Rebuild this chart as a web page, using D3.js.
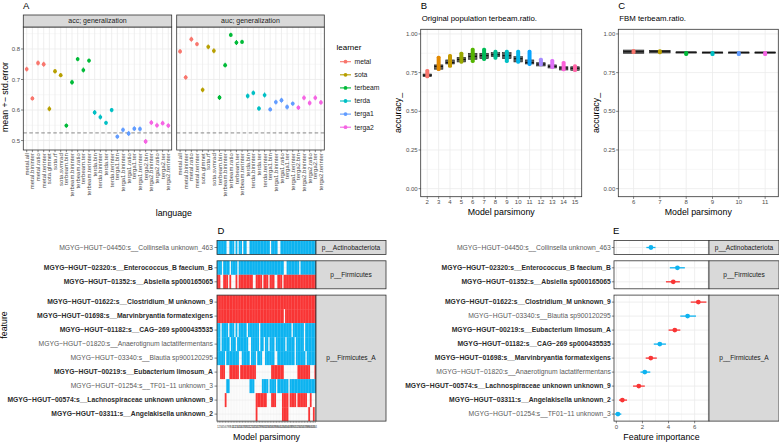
<!DOCTYPE html>
<html><head><meta charset="utf-8">
<script src="https://cdn.jsdelivr.net/npm/d3@7/dist/d3.min.js"></script>
<style>
html,body{margin:0;padding:0;background:#fff;}
svg{display:block;}
svg text{font-family:"Liberation Sans",Arial,Helvetica,sans-serif;}
</style></head>
<body>
<svg id="chart" width="779" height="442" viewBox="0 0 779 442"></svg>
<script>
// ================= DATA =================
// Panel A
const languages = ["metal.all","metal.bininter","metal.ratio","metal.terinter","sota.glmnet","sota.rf","sota.svmrad",
  "terbeam.bin","terbeam.bininter","terbeam.ratio","terbeam.ter","terbeam.terinter",
  "terda.bin","terda.bininter","terda.ter","terda.terinter",
  "terga1.bin","terga1.bininter","terga1.ratio","terga1.ter","terga1.terinter",
  "terga2.bin","terga2.bininter","terga2.ratio","terga2.ter","terga2.terinter"];
const learners = ["metal","sota","terbeam","terda","terga1","terga2"];
const learnerColors = ["#F8766D","#B79F00","#00BA38","#00BFC4","#619CFF","#F564E3"];
const accMean = [0.734,0.638,0.754,0.750,0.604,0.727,0.714,0.549,0.691,0.767,0.731,0.762,0.592,0.577,0.558,0.600,0.513,0.535,0.523,0.539,0.538,0.497,0.559,0.550,0.557,0.549];
const accErr  = [0.008,0.007,0.008,0.008,0.008,0.007,0.007,0.007,0.008,0.007,0.008,0.007,0.008,0.008,0.007,0.007,0.007,0.008,0.008,0.008,0.008,0.008,0.008,0.008,0.008,0.008];
const aucMean = [0.792,0.707,0.832,0.816,0.666,0.807,0.794,0.641,0.747,0.846,0.821,0.823,0.646,0.656,0.605,0.649,0.602,0.626,0.632,0.610,0.621,0.608,0.640,0.623,0.640,0.625];
const aucErr  = [0.008,0.008,0.008,0.007,0.008,0.008,0.008,0.008,0.008,0.007,0.008,0.007,0.008,0.008,0.007,0.008,0.007,0.008,0.008,0.008,0.007,0.008,0.008,0.008,0.008,0.008];
const chanceLevel = 0.525;
const aYTicks = [0.5,0.6,0.7,0.8];
const aYMinor = [0.55,0.65,0.75,0.85];

// Panel B
const bParsimony = [2,3,4,5,6,7,8,9,10,11,12,13,14,15];
const bMin = [0.720,0.767,0.788,0.814,0.819,0.832,0.840,0.819,0.814,0.800,0.797,0.780,0.765,0.760];
const bQ1  = [0.724,0.772,0.806,0.819,0.836,0.840,0.853,0.840,0.819,0.806,0.793,0.780,0.767,0.765];
const bMed = [0.733,0.790,0.815,0.835,0.855,0.860,0.866,0.860,0.840,0.815,0.805,0.790,0.780,0.778];
const bQ3  = [0.741,0.800,0.832,0.849,0.875,0.875,0.879,0.879,0.853,0.832,0.814,0.800,0.788,0.788];
const bMax = [0.767,0.853,0.864,0.879,0.904,0.904,0.891,0.891,0.891,0.891,0.840,0.832,0.819,0.797];
const bColors = ["#F8766D","#E38900","#C49A00","#99A800","#53B400","#00BC56","#00C094","#00BFC4","#00B6EB","#06A4FF","#A58AFF","#DF70F8","#FB61D7","#FF66A8"];

// Panel C
const cParsimony = [6,7,8,9,10,11];
const cMin = [0.882,0.882,0.879,0.879,0.879,0.879];
const cQ1  = [0.875,0.877,0.879,0.879,0.879,0.879];
const cMed = [0.885,0.888,0.882,0.881,0.881,0.881];
const cQ3  = [0.896,0.894,0.884,0.883,0.883,0.883];
const cMax = [0.896,0.895,0.884,0.883,0.883,0.883];
const cColors = ["#F8766D","#B79F00","#00BA38","#00BFC4","#619CFF","#F564E3"];
const accTicks = [0,0.25,0.5,0.75,1];
const accMinor = [0.125,0.375,0.625,0.875];

// Panel D
const phyla = ["p__Actinobacteriota","p__Firmicutes","p__Firmicutes_A"];
const features = [
  "MGYG\u2212HGUT\u221204450:s__Collinsella unknown_463",
  "MGYG\u2212HGUT\u221202320:s__Enterococcus_B faecium_B",
  "MGYG\u2212HGUT\u221201352:s__Absiella sp000165065",
  "MGYG\u2212HGUT\u221201622:s__Clostridium_M unknown_9",
  "MGYG\u2212HGUT\u221201698:s__Marvinbryantia formatexigens",
  "MGYG\u2212HGUT\u221201182:s__CAG\u2212269 sp000435535",
  "MGYG\u2212HGUT\u221201820:s__Anaerotignum lactatifermentans",
  "MGYG\u2212HGUT\u221203340:s__Blautia sp900120295",
  "MGYG\u2212HGUT\u221200219:s__Eubacterium limosum_A",
  "MGYG\u2212HGUT\u221201254:s__TF01\u221211 unknown_3",
  "MGYG\u2212HGUT\u221200574:s__Lachnospiraceae unknown unknown_9",
  "MGYG\u2212HGUT\u221203311:s__Angelakisella unknown_2"];
const featurePhylum = [0,1,1,2,2,2,2,2,2,2,2,2];
const featureSign = [-1,-1,1,1,1,-1,-1,-1,1,-1,1,1];
const featureBold = [false,true,true,true,true,true,false,false,true,false,true,true];
const models = d3.range(1,65);
// runs of models (0-based column index, inclusive) in which each feature is selected
const presenceRuns = [
  [[0,5],[8,10],[12,12],[14,15],[17,18],[21,33],[35,38],[41,63]],
  [[0,2],[4,7],[9,12],[14,42],[45,52],[54,63]],
  [[0,1],[4,6],[8,8],[12,12],[14,22],[25,28],[30,32],[34,36],[39,41],[43,63]],
  [[0,63]],
  [[0,42],[44,63]],
  [[0,1],[3,6],[8,10],[12,12],[14,18],[20,26],[28,47],[49,55],[57,63]],
  [[0,1],[3,7],[9,11],[13,19],[22,26],[28,29],[31,32],[34,36],[38,43],[45,49],[51,55],[57,63]],
  [[0,4],[6,13],[16,20],[22,24],[26,28],[31,36],[39,49],[51,56],[58,63]],
  [[2,4],[8,13],[15,24],[35,42],[52,59],[63,63]],
  [[6,7],[21,23],[29,32],[34,37],[39,45],[47,63]],
  [[5,5],[25,31],[35,37],[42,45],[47,50],[52,57],[60,60]],
  [[25,25],[42,45],[59,59],[62,62]]];
const signColors = {"-1":"#0DB3F0","1":"#F93535"};

// Panel E (order within facets as in the figure)
const eFeatureIdx = [0, 1,2, 3,7,8,5,4,6,10,11,9];
const eImportance = [2.65, 4.68,4.36, 6.28,5.46,4.48,3.33,2.64,2.18,1.72,0.46,0.12];
const eLow  = [2.30, 4.10,3.80, 5.70,4.90,4.00,2.87,2.25,1.85,1.28,0.20,-0.13];
const eHigh = [3.00, 5.25,4.87, 6.90,6.10,4.90,3.80,3.10,2.60,2.18,0.82,0.38];
const eTicks = [0,2,4,6];
const eMinor = [1,3,5,7];

// ================= DRAWING =================
const svg = d3.select("#chart");
const GRID = "#EBEBEB", DARK = "#333333", AXT = "#4D4D4D", STRIP = "#D9D9D9";
const LABEL_SIZE = 6.75;

function rect(g,x0,y0,x1,y1,fill,stroke,sw){
  return g.append("rect").attr("x",x0).attr("y",y0).attr("width",x1-x0).attr("height",y1-y0)
    .attr("fill",fill||"none").attr("stroke",stroke||"none").attr("stroke-width",sw||0);
}
function line(g,x1,y1,x2,y2,stroke,sw,dash){
  const l = g.append("line").attr("x1",x1).attr("y1",y1).attr("x2",x2).attr("y2",y2)
    .attr("stroke",stroke).attr("stroke-width",sw);
  if (dash) l.attr("stroke-dasharray",dash);
  return l;
}
function text(g,x,y,s,size,opt={}){
  const t = g.append("text").attr("x",x).attr("y",y).text(s).attr("font-size",size)
    .attr("fill",opt.fill||"#000").attr("text-anchor",opt.anchor||"start");
  if (opt.weight) t.attr("font-weight",opt.weight);
  if (opt.dy) t.attr("dy",opt.dy);
  if (opt.rotate!=null) t.attr("transform",`rotate(${opt.rotate},${x},${y})`);
  return t;
}

// ---------- Panel A ----------
const gA = svg.append("g");
text(gA,23,9,"A",9.5);
const ay = d3.scaleLinear().domain([0.469,0.872]).range([150,27]);
const aFacets = [
  {label:"acc; generalization", x0:23.3, x1:171.7, mean:accMean, err:accErr},
  {label:"auc; generalization", x0:176.7, x1:324.3, mean:aucMean, err:aucErr}];
aFacets.forEach(f=>{
  const x = d3.scalePoint().domain(languages).range([f.x0,f.x1]).padding(0.6);
  const yb = ay.range()[0], yt = ay.range()[1];
  aYMinor.forEach(v=>line(gA,f.x0,ay(v),f.x1,ay(v),GRID,0.4));
  aYTicks.forEach(v=>line(gA,f.x0,ay(v),f.x1,ay(v),GRID,0.8));
  languages.forEach(l=>line(gA,x(l),yt,x(l),yb,GRID,0.8));
  line(gA,f.x0,ay(chanceLevel),f.x1,ay(chanceLevel),"#555",0.7,"3.5,2.5");
  languages.forEach((l,i)=>{
    const c = learnerColors[learners.indexOf(l.split(".")[0])];
    line(gA,x(l),ay(f.mean[i]-f.err[i]),x(l),ay(f.mean[i]+f.err[i]),c,1.1);
    gA.append("circle").attr("cx",x(l)).attr("cy",ay(f.mean[i])).attr("r",1.9).attr("fill",c);
  });
  rect(gA,f.x0,yt,f.x1,yb,"none",DARK,0.8);
  rect(gA,f.x0,15,f.x1,yt,STRIP,DARK,0.8);
  text(gA,(f.x0+f.x1)/2,yt-3.6,f.label,7,{anchor:"middle",fill:"#1A1A1A"});
  languages.forEach(l=>{
    line(gA,x(l),yb,x(l),yb+2.2,DARK,0.6);
    text(gA,x(l),yb+3.2,l,6,{anchor:"end",fill:AXT,rotate:-90,dy:"0.35em"});
  });
});
aYTicks.forEach(v=>{
  line(gA,21,ay(v),23.3,ay(v),DARK,0.6);
  text(gA,20,ay(v),d3.format(".1f")(v),6,{anchor:"end",fill:AXT,dy:"0.35em"});
});
text(gA,8,97,"mean +\u2212 std.error",8.8,{anchor:"middle",rotate:-90});
text(gA,173.8,215.5,"language",8.8,{anchor:"middle"});
// legend
text(gA,336.5,50,"learner",8);
learners.forEach((l,i)=>{
  const y = 61.7 + i*13.1;
  line(gA,340,y,351,y,learnerColors[i],1.1);
  gA.append("circle").attr("cx",345.5).attr("cy",y).attr("r",1.9).attr("fill",learnerColors[i]);
  text(gA,354.5,y,l,6.8,{dy:"0.35em",fill:"#1A1A1A"});
});

// ---------- Panels B & C ----------
const yAcc = d3.scaleLinear().domain([-0.052,1.030]).range([196.7,29.3]);
function boxPanel(cfg){
  const g = svg.append("g");
  const x = d3.scaleLinear().domain(cfg.dom).range([cfg.x0,cfg.x1]);
  const yb = yAcc.range()[0], yt = yAcc.range()[1];
  text(g,cfg.x0,9,cfg.tag,9.5);
  text(g,cfg.x0+1,21,cfg.subtitle,7.8);
  accMinor.forEach(v=>line(g,cfg.x0,yAcc(v),cfg.x1,yAcc(v),GRID,0.4));
  accTicks.forEach(v=>line(g,cfg.x0,yAcc(v),cfg.x1,yAcc(v),GRID,0.8));
  cfg.cats.forEach(c=>line(g,x(c),yt,x(c),yb,GRID,0.8));
  const bw = (x(1)-x(0))*cfg.boxW;
  cfg.cats.forEach((c,i)=>{
    const cx = x(c);
    line(g,cx,yAcc(cfg.mn[i]),cx,yAcc(cfg.mx[i]),"#333",0.5);
    rect(g,cx-bw/2,yAcc(cfg.q3[i]),cx+bw/2,Math.max(yAcc(cfg.q1[i]),yAcc(cfg.q3[i])+1.2),"#5E5E5E","#222",0.6);
    line(g,cx-bw/2,yAcc(cfg.med[i]),cx+bw/2,yAcc(cfg.med[i]),"#111",1.2);
    const top = yAcc(cfg.mx[i]), bot = Math.max(yAcc(cfg.mn[i]), top+3);
    g.append("rect").attr("x",cx-2).attr("y",top-1).attr("width",4).attr("height",bot-top+2)
      .attr("rx",1.6).attr("fill",cfg.colors[i]);
  });
  rect(g,cfg.x0,yt,cfg.x1,yb,"none",DARK,0.8);
  accTicks.forEach(v=>{
    line(g,cfg.x0-2.2,yAcc(v),cfg.x0,yAcc(v),DARK,0.6);
    text(g,cfg.x0-3,yAcc(v),d3.format(".2f")(v),6,{anchor:"end",fill:AXT,dy:"0.35em"});
  });
  cfg.cats.forEach(c=>{
    line(g,x(c),yb,x(c),yb+2.2,DARK,0.6);
    text(g,x(c),204.2,String(c),6,{anchor:"middle",fill:AXT});
  });
  text(g,(cfg.x0+cfg.x1)/2,215.3,"Model parsimony",8.8,{anchor:"middle"});
  text(g,cfg.yTitleX,(yt+yb)/2,"accuracy_",8.8,{anchor:"middle",rotate:-90});
}
boxPanel({tag:"B",subtitle:"Original population terbeam.ratio.",x0:420.7,x1:581.7,dom:[1.42,15.59],
  cats:bParsimony,mn:bMin,q1:bQ1,med:bMed,q3:bQ3,mx:bMax,colors:bColors,boxW:0.75,yTitleX:400.5});
boxPanel({tag:"C",subtitle:"FBM terbeam.ratio.",x0:618.3,x1:778.3,dom:[5.42,11.5],
  cats:cParsimony,mn:cMin,q1:cQ1,med:cMed,q3:cQ3,mx:cMax,colors:cColors,boxW:0.78,yTitleX:598.5});

// ---------- facet layout for D & E ----------
const rowH = 14, facetGap = 6.3;
const facetRanges = [];
{ let y0 = 240.5;
  phyla.forEach((p,pi)=>{
    const n = featurePhylum.filter(v=>v===pi).length;
    facetRanges.push([y0, y0+n*rowH]);
    y0 += n*rowH + facetGap;
  });
}
function featureLabel(g,x,y,fi){
  const t = text(g,x,y,features[fi],LABEL_SIZE,{anchor:"end",dy:"0.35em",
    weight:featureBold[fi]?"bold":null,fill:featureBold[fi]?"#2B2B2B":"#5A5A5A"});
  return t;
}

// ---------- Panel D ----------
const gD = svg.append("g");
text(gD,217.5,233.5,"D",9.5);
const dx = d3.scaleBand().domain(models).range([217,316]).padding(0);
const dStrip = [316,386];
phyla.forEach((p,pi)=>{
  const rows = features.map((f,i)=>i).filter(i=>featurePhylum[i]===pi);
  const [y0,y1] = facetRanges[pi];
  const dy = d3.scaleBand().domain(rows).range([y0,y1]);
  models.forEach(m=>line(gD,dx(m)+dx.bandwidth()/2,y0,dx(m)+dx.bandwidth()/2,y1,GRID,0.4));
  rows.forEach(r=>line(gD,217,dy(r)+rowH/2,316,dy(r)+rowH/2,GRID,0.6));
  rows.forEach(r=>{
    presenceRuns[r].forEach(([a,b])=>{
      for (let c=a;c<=b;c++){
        gD.append("rect").attr("x",dx(models[c])).attr("y",dy(r))
          .attr("width",dx.bandwidth()+0.25).attr("height",dy.bandwidth())
          .attr("fill",signColors[String(featureSign[r])]);
      }
    });
    line(gD,214.5,dy(r)+rowH/2,217,dy(r)+rowH/2,DARK,0.6);
    featureLabel(gD,213,dy(r)+rowH/2,r);
  });
  rect(gD,217,y0,316,y1,"none",DARK,0.8);
  rect(gD,dStrip[0],y0,dStrip[1],y1,STRIP,DARK,0.8);
  text(gD,(dStrip[0]+dStrip[1])/2,(y0+y1)/2,p,6.6,{anchor:"middle",dy:"0.35em",fill:"#1A1A1A"});
});
const dBottom = facetRanges[2][1];
models.forEach(m=>{
  const cx = dx(m)+dx.bandwidth()/2;
  line(gD,cx,dBottom,cx,dBottom+1.8,DARK,0.4);
  text(gD,cx,dBottom+6.5,String(m),3.1,{anchor:"middle",fill:AXT});
});
text(gD,266.5,440,"Model parsimony",8.8,{anchor:"middle"});
text(gD,7,325,"feature",8.8,{anchor:"middle",rotate:-90});

// ---------- Panel E ----------
const gE = svg.append("g");
text(gE,613,233.5,"E",9.5);
const ex = d3.scaleLinear().domain([-0.18,7.1]).range([614,709]);
const eStrip = [709,779];
phyla.forEach((p,pi)=>{
  const idx = eFeatureIdx.map((f,k)=>k).filter(k=>featurePhylum[eFeatureIdx[k]]===pi);
  const [y0,y1] = facetRanges[pi];
  const ey = d3.scaleBand().domain(idx).range([y0,y1]);
  eMinor.forEach(v=>line(gE,ex(v),y0,ex(v),y1,GRID,0.4));
  eTicks.forEach(v=>line(gE,ex(v),y0,ex(v),y1,GRID,0.8));
  idx.forEach(k=>line(gE,614,ey(k)+rowH/2,709,ey(k)+rowH/2,GRID,0.8));
  idx.forEach(k=>{
    const fi = eFeatureIdx[k];
    const cy = ey(k)+rowH/2;
    const col = signColors[String(featureSign[fi])];
    line(gE,ex(eLow[k]),cy,ex(eHigh[k]),cy,col,1.3);
    gE.append("circle").attr("cx",ex(eImportance[k])).attr("cy",cy).attr("r",2.4).attr("fill",col);
    line(gE,611.8,cy,614,cy,DARK,0.6);
    featureLabel(gE,610.8,cy,fi);
  });
  rect(gE,614,y0,709,y1,"none",DARK,0.8);
  rect(gE,eStrip[0],y0,eStrip[1],y1,STRIP,DARK,0.8);
  text(gE,(eStrip[0]+eStrip[1])/2,(y0+y1)/2,p,6.6,{anchor:"middle",dy:"0.35em",fill:"#1A1A1A"});
});
eTicks.forEach(v=>{
  line(gE,ex(v),dBottom,ex(v),dBottom+2.2,DARK,0.6);
  text(gE,ex(v),429.3,String(v),6,{anchor:"middle",fill:AXT});
});
text(gE,661.5,440,"Feature importance",8.8,{anchor:"middle"});
</script>
</body></html>
